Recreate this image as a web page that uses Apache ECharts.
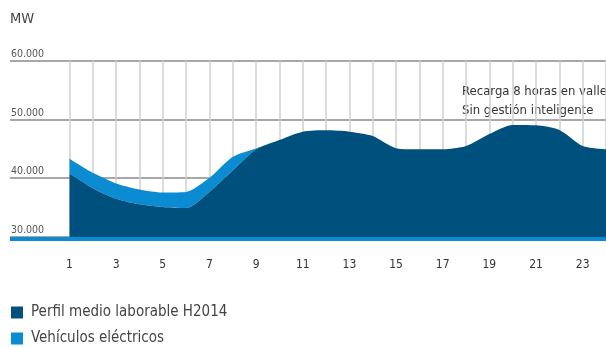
<!DOCTYPE html>
<html><head><meta charset="utf-8">
<script src="https://cdn.jsdelivr.net/npm/echarts@6/dist/echarts.min.js"></script>
<style>html,body{margin:0;padding:0;background:#fff}#c{width:606px;height:347px}</style>
</head><body><div id="c"></div>
<script>
const hours = ['1','2','3','4','5','6','7','8','9','10','11','12','13','14','15','16','17','18','19','20','21','22','23','24'];
const perfil = [40800,38300,36500,35550,35100,34930,37660,41300,44900,46480,47900,48130,47900,47170,45100,44900,44900,45460,47510,49050,48990,48190,45460,44900];
const vehiculos = [2500,2600,2600,2520,2460,2730,2390,2340,160,0,0,0,0,0,0,0,0,0,0,0,0,0,0,0];
const seriesNames = ['Perfil medio laborable H2014','Vehículos eléctricos'];
const annotation = ['Recarga 8 horas en valle','Sin gestión inteligente'];

const DARK = '#00507d', LIGHT = '#0a8bd2';
const FONT = '"DejaVu Sans Condensed","Liberation Sans Narrow",sans-serif';
const fmt = v => String(v/1000) + '.000';

const chart = echarts.init(document.getElementById('c'), null, {renderer:'canvas'});
chart.setOption({
  animation:false,
  textStyle:{fontFamily:FONT},
  grid:[
    {left:10, right:0, top:60.5, bottom:110},
    {left:69.5, width:539, top:60.5, bottom:110}
  ],
  xAxis:[
    {gridIndex:0, type:'value', min:0, max:1, show:true,
     axisLine:{show:true, onZero:false, lineStyle:{color:LIGHT, width:4, cap:'butt'}}, offset:2,
     axisTick:{show:false}, axisLabel:{show:false}, splitLine:{show:false}},
    {gridIndex:1, type:'category', data:hours, boundaryGap:false,
     axisLine:{show:false}, axisTick:{show:false},
     axisLabel:{margin:22, color:'#333', fontSize:12, fontFamily:FONT, interval:1},
     splitLine:{show:true, interval:0, lineStyle:{color:'#cfcfcf', width:1.5}}}
  ],
  yAxis:[
    {gridIndex:0, type:'value', min:30000, max:60000, interval:10000,
     axisLine:{show:false}, axisTick:{show:false},
     axisLabel:{inside:true, margin:1, verticalAlign:'bottom', align:'left', padding:[0,0,1,0],
       color:'#555', fontSize:10.5, fontFamily:FONT, formatter:fmt},
     splitLine:{show:true, lineStyle:{color:'#8a8a8a', width:1.5}}},
    {gridIndex:1, type:'value', min:30000, max:60000, interval:10000, show:false,
     splitLine:{show:false}}
  ],
  legend:[
    {left:6, top:300, itemWidth:12, itemHeight:12, icon:'rect', selectedMode:false,
     textStyle:{fontFamily:FONT, fontSize:15, color:'#444', padding:[0,0,0,3]},
     data:[seriesNames[0]]},
    {left:6, top:326, itemWidth:12, itemHeight:12, icon:'rect', selectedMode:false,
     textStyle:{fontFamily:FONT, fontSize:15, color:'#444', padding:[0,0,0,3]},
     data:[seriesNames[1]]}
  ],
  graphic:[
    {type:'text', left:10, top:12, style:{text:'MW', font:'14.5px '+FONT, fill:'#444'}},
    {type:'text', left:462, top:82, style:{text:annotation.join('\n'), font:'13px '+FONT, fill:'#333', lineHeight:19}}
  ],
  series:[
    {name:seriesNames[0], type:'line', xAxisIndex:1, yAxisIndex:1, stack:'a',
     data:perfil, showSymbol:false, smooth:0.25,
     lineStyle:{width:0}, areaStyle:{color:DARK, opacity:1}, itemStyle:{color:DARK}, z:3},
    {name:seriesNames[1], type:'line', xAxisIndex:1, yAxisIndex:1, stack:'a',
     data:vehiculos, showSymbol:false, smooth:0.25,
     lineStyle:{width:0}, areaStyle:{color:LIGHT, opacity:1}, itemStyle:{color:LIGHT}, z:2}
  ]
});
</script></body></html>
